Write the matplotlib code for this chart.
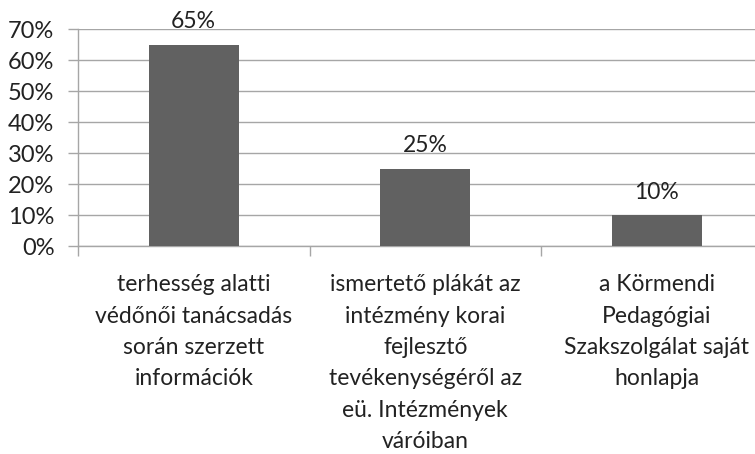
import matplotlib
matplotlib.use("Agg")
import matplotlib.pyplot as plt
from matplotlib.ticker import FixedLocator, PercentFormatter

categories = [
    "terhesség alatti\nvédőnői tanácsadás\nsorán szerzett\ninformációk",
    "ismertető plákát az\nintézmény korai\nfejlesztő\ntevékenységéről az\neü. Intézmények\nváróiban",
    "a Körmendi\nPedagógiai\nSzakszolgálat saját\nhonlapja",
]
values = [65, 25, 10]
value_labels = ["65%", "25%", "10%"]
yticks = [0, 10, 20, 30, 40, 50, 60, 70]

plt.rcParams['font.family'] = ['Lato', 'DejaVu Sans']

fig = plt.figure(figsize=(7.55, 4.54), dpi=100)
ax = fig.add_axes([78/755, 1 - 246.5/454, 694.5/755, 217.2/454])

grid_c = "#a6a6a6"
bar_c = "#616161"
txt_c = "#222222"

x = list(range(len(categories)))
ax.bar(x, values, width=0.39, color=bar_c, zorder=3)

ax.set_xlim(-0.5, len(categories) - 0.5)
ax.set_ylim(0, 70)
ax.yaxis.set_major_locator(FixedLocator(yticks))
ax.yaxis.set_major_formatter(PercentFormatter(decimals=0))
ax.grid(axis='y', color=grid_c, linewidth=1, zorder=0)

ax.set_xticks(x)
ax.set_xticklabels(categories, fontsize=16.5, color=txt_c, linespacing=1.61, va='top')
ax.set_xticks([i - 0.5 for i in range(len(categories) + 1)], minor=True)
ax.tick_params(axis='x', which='major', length=0, pad=20)
ax.tick_params(axis='x', which='minor', length=7, color=grid_c, width=1)
ax.tick_params(axis='y', length=7, color=grid_c, width=1, labelsize=17, labelcolor=txt_c, pad=10)

for s in ['top', 'right']:
    ax.spines[s].set_visible(False)
for s in ['left', 'bottom']:
    ax.spines[s].set_color(grid_c)
    ax.spines[s].set_linewidth(1)

for xi, v, lab in zip(x, values, value_labels):
    ax.annotate(lab, (xi, v), xytext=(0, 9), textcoords='offset points',
                ha='center', va='bottom', fontsize=16.5, color=txt_c, zorder=4,
                annotation_clip=False)

fig.savefig("out.png", dpi=100)
